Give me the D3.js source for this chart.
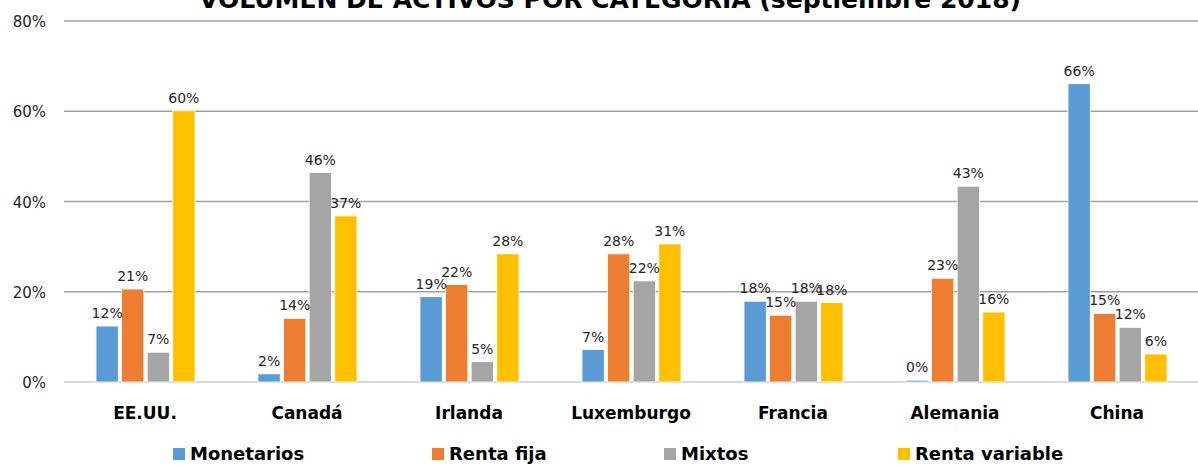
<!DOCTYPE html>
<meta charset="utf-8">
<style>
    body { margin: 0; background: #fff; }
    svg text { font-family: "DejaVu Sans", "Century Gothic", sans-serif; }
    .grid line { stroke: #a0a0a0; stroke-width: 1.5px; }
    .value { font-size: 14px; fill: #262626; text-anchor: middle; }
    .tick-label { font-size: 15px; fill: #262626; text-anchor: end; }
    .cat { font-size: 17px; font-weight: bold; fill: #000; text-anchor: middle; }
    .legend text { font-size: 18px; font-weight: bold; fill: #000; }
    .title { font-size: 24px; font-weight: bold; fill: #000; text-anchor: middle; }
</style>
<svg width="1198" height="465"></svg>
<script src="https://d3js.org/d3.v7.min.js"></script>
<script>
    var paises = ["EE.UU.", "Canadá", "Irlanda", "Luxemburgo", "Francia", "Alemania", "China"];
    var series = ["Monetarios", "Renta fija", "Mixtos", "Renta variable"];
    var colores = ["#5B9BD5", "#ED7D31", "#A5A5A5", "#FFC000"];
    var monetarios    = [12.4, 1.8, 18.9, 7.2, 17.9, 0.4, 66.1];
    var rentaFija     = [20.6, 14.1, 21.6, 28.4, 14.8, 23.0, 15.2];
    var mixtos        = [6.6, 46.4, 4.5, 22.4, 17.9, 43.4, 12.1];
    var rentaVariable = [60.1, 36.8, 28.4, 30.6, 17.6, 15.5, 6.2];
    var yTicks = [0, 20, 40, 60, 80];

    var valores = [monetarios, rentaFija, mixtos, rentaVariable];
    var tabla = paises.map(function (p, i) {
        return { pais: p, vals: series.map(function (s, j) { return { serie: s, v: valores[j][i] }; }) };
    });

    var svg = d3.select("svg");
    var mLeft = 64, mRight = 1198, mTop = 21, mBottom = 382;

    var y = d3.scaleLinear().domain([0, 80]).range([mBottom, mTop]);
    var x0 = d3.scaleBand().domain(paises).range([mLeft, mRight]);
    var x1 = d3.scaleBand().domain(series).range([32, 131]).paddingInner(0.13);
    var color = d3.scaleOrdinal().domain(series).range(colores);

    // gridlines
    var grid = svg.append("g").attr("class", "grid");
    grid.selectAll("line")
        .data(yTicks.filter(function (d) { return d > 0; }))
        .enter().append("line")
        .attr("x1", mLeft).attr("x2", mRight)
        .attr("y1", function (d) { return y(d); })
        .attr("y2", function (d) { return y(d); });
    svg.append("line")
        .attr("x1", mLeft).attr("x2", mRight)
        .attr("y1", y(0)).attr("y2", y(0))
        .style("stroke", "#d9d9d9").style("stroke-width", 2);

    svg.selectAll(".tick-label")
        .data(yTicks)
        .enter().append("text")
        .attr("class", "tick-label")
        .attr("x", 46)
        .attr("y", function (d) { return y(d) + 6; })
        .text(function (d) { return d + "%"; });

    // title (cut at the top like the original)
    svg.append("text")
        .attr("class", "title")
        .attr("x", 610).attr("y", 8)
        .attr("textLength", 822).attr("lengthAdjust", "spacingAndGlyphs")
        .text("VOLUMEN DE ACTIVOS POR CATEGORÍA (septiembre 2018)");

    var grupo = svg.selectAll(".grupo")
        .data(tabla)
        .enter().append("g")
        .attr("class", "grupo")
        .attr("transform", function (d) { return "translate(" + x0(d.pais) + ",0)"; });

    grupo.selectAll("rect")
        .data(function (d) { return d.vals; })
        .enter().append("rect")
        .attr("x", function (d) { return x1(d.serie); })
        .attr("width", x1.bandwidth())
        .attr("y", function (d) { return y(d.v); })
        .attr("height", function (d) { return y(0) - y(d.v); })
        .style("fill", function (d) { return color(d.serie); })
        .style("stroke", "#fff").style("stroke-width", 0.8);

    grupo.selectAll(".value")
        .data(function (d) { return d.vals; })
        .enter().append("text")
        .attr("class", "value")
        .attr("x", function (d) { return x1(d.serie) + x1.bandwidth() / 2; })
        .attr("y", function (d) { return y(d.v) - 8; })
        .text(function (d) { return Math.round(d.v) + "%"; });

    svg.selectAll(".cat")
        .data(paises)
        .enter().append("text")
        .attr("class", "cat")
        .attr("x", function (d) { return x0(d) + x0.bandwidth() / 2; })
        .attr("y", 419)
        .text(function (d) { return d; });

    // legend
    var legX = [173, 432, 664, 898];
    var leg = svg.append("g").attr("class", "legend")
        .selectAll("g")
        .data(series)
        .enter().append("g")
        .attr("transform", function (d, i) { return "translate(" + legX[i] + ",448)"; });
    leg.append("rect")
        .attr("width", 12).attr("height", 12)
        .style("fill", function (d) { return color(d); });
    leg.append("text")
        .attr("x", 17).attr("y", 12)
        .text(function (d) { return d; });
</script>
